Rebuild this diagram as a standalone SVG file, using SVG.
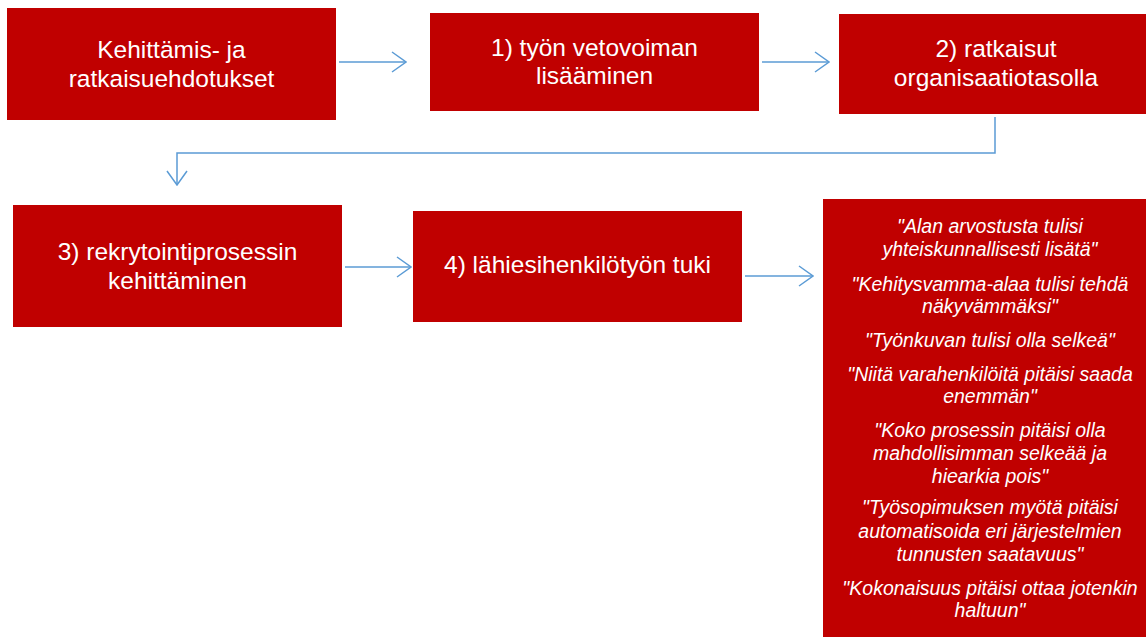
<svg xmlns="http://www.w3.org/2000/svg" width="1146" height="637" viewBox="0 0 1146 637">
<style>
.box{fill:#C00000;}
.t{fill:#FFFFFF;font-family:"Liberation Sans",Arial,sans-serif;font-size:24.5px;text-anchor:middle;}
.q{fill:#FFFFFF;font-family:"Liberation Sans",Arial,sans-serif;font-size:19.5px;font-style:italic;text-anchor:middle;}
.c{fill:none;stroke:#5B9BD5;stroke-width:1.5;}
</style>
<defs>
<marker id="arr" viewBox="0 0 16 22" refX="15" refY="11" markerWidth="16" markerHeight="22" markerUnits="userSpaceOnUse" orient="auto">
<path d="M1,1 L15,11 L1,21" fill="none" stroke="#5B9BD5" stroke-width="1.5"/>
</marker>
</defs>
<rect width="1146" height="637" fill="#FFFFFF"/>
<g id="connectors">
<path class="c" d="M339,62 H406" marker-end="url(#arr)"/>
<path class="c" d="M762,62 H829" marker-end="url(#arr)"/>
<path class="c" d="M995,117 V153 H177 V185" marker-end="url(#arr)"/>
<path class="c" d="M345,267 H411" marker-end="url(#arr)"/>
<path class="c" d="M745,276 H813" marker-end="url(#arr)"/>
</g>
<g id="node-start">
<rect class="box" x="7" y="8" width="329" height="112"/>
<text class="t" x="171.5" y="58">Kehittämis- ja</text>
<text class="t" x="171.5" y="87">ratkaisuehdotukset</text>
</g>
<g id="node-1">
<rect class="box" x="430" y="13" width="329" height="98"/>
<text class="t" x="594.5" y="56">1) työn vetovoiman</text>
<text class="t" x="594.5" y="84">lisääminen</text>
</g>
<g id="node-2">
<rect class="box" x="839" y="14" width="320" height="100"/>
<text class="t" x="996" y="57">2) ratkaisut</text>
<text class="t" x="996" y="86">organisaatiotasolla</text>
</g>
<g id="node-3">
<rect class="box" x="13" y="205" width="329" height="122"/>
<text class="t" x="177.5" y="260">3) rekrytointiprosessin</text>
<text class="t" x="177.5" y="289">kehittäminen</text>
</g>
<g id="node-4">
<rect class="box" x="413" y="211" width="329" height="111"/>
<text class="t" x="577.5" y="273">4) lähiesihenkilötyön tuki</text>
</g>
<g id="node-quotes">
<rect class="box" x="823" y="199" width="340" height="450"/>
<text class="q" x="990" y="233">"Alan arvostusta tulisi</text>
<text class="q" x="990" y="256">yhteiskunnallisesti lisätä"</text>
<text class="q" x="990" y="291">"Kehitysvamma-alaa tulisi tehdä</text>
<text class="q" x="990" y="313">näkyvämmäksi"</text>
<text class="q" x="990" y="347">"Työnkuvan tulisi olla selkeä"</text>
<text class="q" x="990" y="381">"Niitä varahenkilöitä pitäisi saada</text>
<text class="q" x="990" y="403">enemmän"</text>
<text class="q" x="990" y="437">"Koko prosessin pitäisi olla</text>
<text class="q" x="990" y="460">mahdollisimman selkeää ja</text>
<text class="q" x="990" y="483">hiearkia pois"</text>
<text class="q" x="990" y="514">"Työsopimuksen myötä pitäisi</text>
<text class="q" x="990" y="538">automatisoida eri järjestelmien</text>
<text class="q" x="990" y="561">tunnusten saatavuus"</text>
<text class="q" x="990" y="595">"Kokonaisuus pitäisi ottaa jotenkin</text>
<text class="q" x="990" y="617">haltuun"</text>
</g>
</svg>
